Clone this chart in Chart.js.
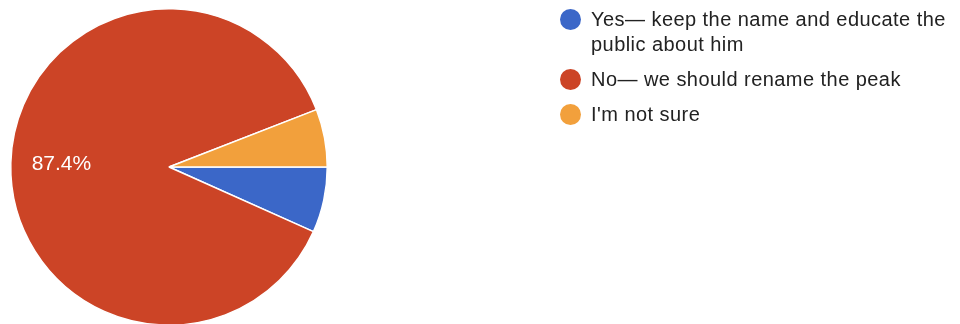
<!DOCTYPE html>
<html>
<head>
<meta charset="utf-8">
<script src="https://cdn.jsdelivr.net/npm/chart.js@4"></script>
<style>
  body { margin: 0; background: #fff; font-family: Arial, "Liberation Sans", sans-serif; }
  #wrap { position: relative; width: 960px; height: 324px; overflow: hidden; }
  #pie { position: absolute; left: 0; top: 0; }
  #legend { position: absolute; left: 560px; top: 7px; color: #222; font-size: 20px; line-height: 25px; letter-spacing: 0.45px; }
  .item { position: relative; padding-left: 31px; margin-bottom: 10px; white-space: pre; }
  .dot { position: absolute; left: 0; top: 1.5px; width: 21px; height: 21px; border-radius: 50%; }
</style>
</head>
<body>
<div id="wrap">
  <canvas id="pie" width="960" height="330"></canvas>
  <div id="legend"></div>
</div>
<script>
'use strict';
// Data
var labels = ['Yes\u2014 keep the name and educate the public about him', 'No\u2014 we should rename the peak', 'I\'m not sure'];
var legendLines = [['Yes\u2014 keep the name and educate the', 'public about him'], ['No\u2014 we should rename the peak'], ['I\'m not sure']];
var percents = [6.7, 87.4, 5.9];
var colors = ['#3b67c8', '#cc4426', '#f2a03c'];

// legend in html
var legendElem = document.getElementById('legend');
for (var i = 0; i < legendLines.length; i++) {
  var item = document.createElement('div');
  item.className = 'item';
  var dot = document.createElement('span');
  dot.className = 'dot';
  dot.style.background = colors[i];
  item.appendChild(dot);
  item.appendChild(document.createTextNode(legendLines[i].join('\n')));
  legendElem.appendChild(item);
}

// percent label on big slices
var pctLabels = {
  id: 'pctLabels',
  afterDatasetsDraw: function (chart) {
    var ctx = chart.ctx;
    var meta = chart.getDatasetMeta(0);
    ctx.save();
    ctx.fillStyle = '#fff';
    ctx.font = '21px Arial, "Liberation Sans", sans-serif';
    ctx.textAlign = 'center';
    ctx.textBaseline = 'middle';
    meta.data.forEach(function (arc, idx) {
      if (percents[idx] < 10) return;
      var mid = (arc.startAngle + arc.endAngle) / 2;
      var r = arc.outerRadius * 0.68;
      ctx.fillText(percents[idx].toFixed(1) + '%', arc.x + Math.cos(mid) * r, arc.y + Math.sin(mid) * r);
    });
    ctx.restore();
  }
};

var chart = new Chart(document.getElementById('pie').getContext('2d'), {
  type: 'pie',
  data: {
    labels: labels,
    datasets: [{
      data: percents,
      backgroundColor: colors,
      borderColor: '#fff',
      borderWidth: 1.5
    }]
  },
  options: {
    responsive: false,
    animation: false,
    rotation: 90,
    layout: { padding: { left: 10, right: 632, top: 8, bottom: 4 } },
    plugins: {
      legend: { display: false },
      tooltip: { enabled: false }
    }
  },
  plugins: [pctLabels]
});
</script>
</body>
</html>
